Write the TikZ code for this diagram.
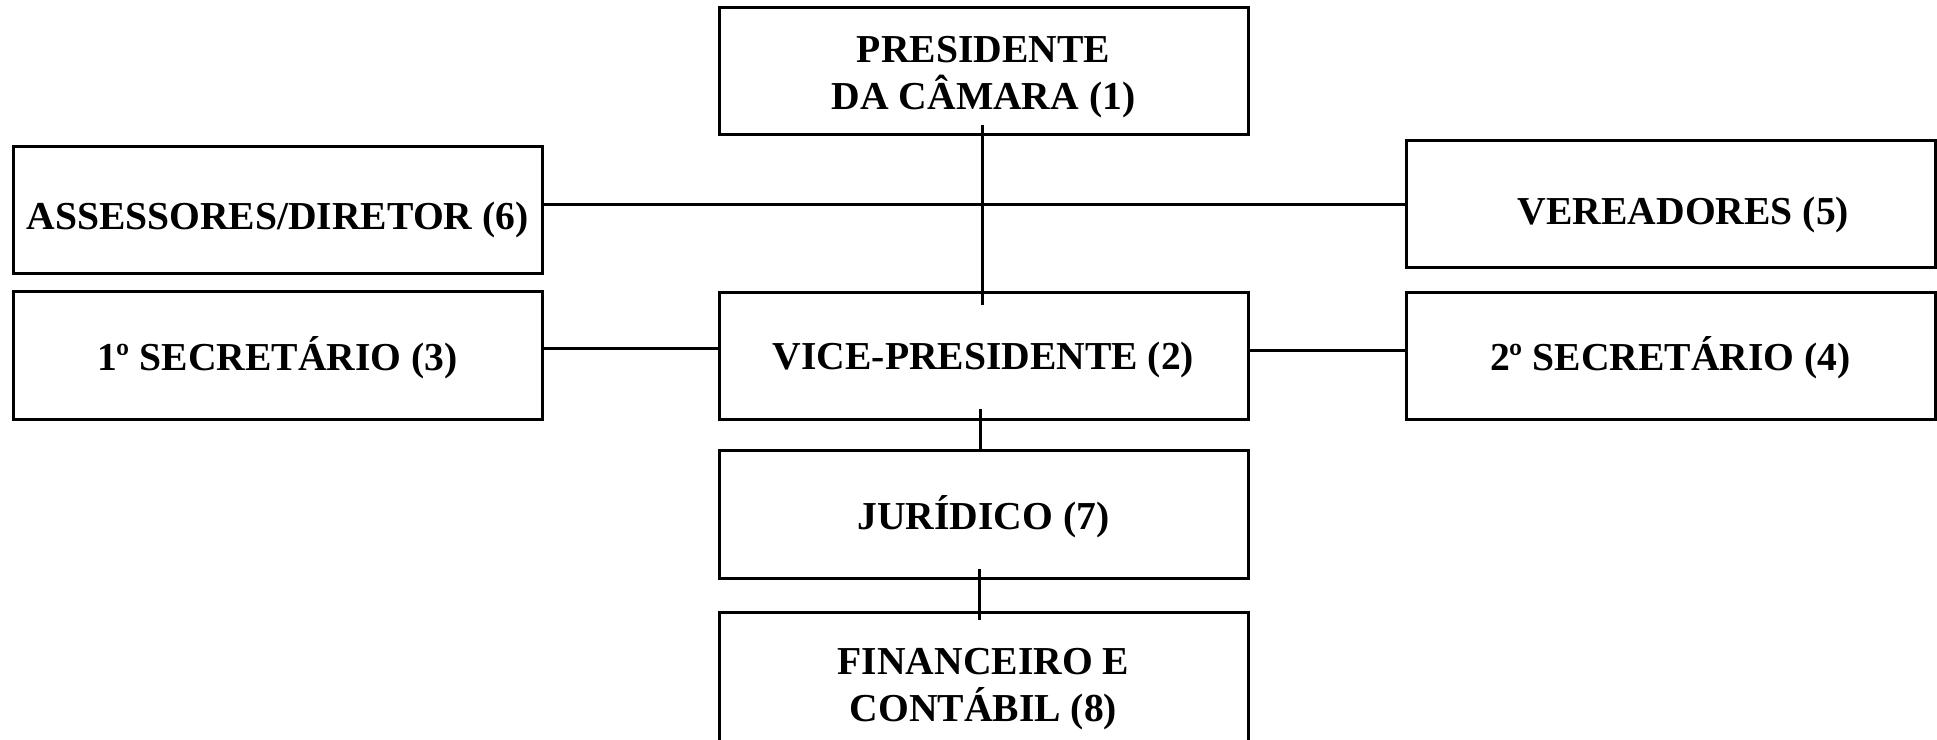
\documentclass[tikz,border=0pt]{standalone}
\usepackage{fontspec}
\setmainfont{Liberation Serif}
\begin{document}
\begin{tikzpicture}[x=0.5pt,y=-0.5pt,
  orgbox/.style={draw,line width=1.5pt,rectangle,inner sep=0pt,outer sep=0pt,
    minimum width=264.5pt,minimum height=63.5pt},
  orgtext/.style={inner sep=0pt,align=center,
    font=\fontsize{19.8}{23.5}\selectfont\bfseries},
  link/.style={line width=1.5pt}]
\useasboundingbox (0,0) rectangle (1937,739);
\node[orgbox] (pres) at (983.5,70.5) {};
\node[orgbox] (asses) at (277.5,210) {};
\node[orgbox] (verea) at (1670.5,204) {};
\node[orgbox,minimum height=64pt] (sec1) at (277.5,355) {};
\node[orgbox] (vp) at (983.5,355.5) {};
\node[orgbox] (sec2) at (1670.5,355.5) {};
\node[orgbox,minimum height=64pt] (jur) at (983.5,514) {};
\node[orgbox,minimum height=64.5pt] (fin) at (983.5,676.5) {};
\node[orgtext] (presT) at ([yshift=-3.5pt]pres.center) {PRESIDENTE\\DA CÂMARA (1)};
\node[orgtext] (assesT) at ([yshift=-5pt]asses.center) {ASSESSORES/DIRETOR (6)};
\node[orgtext] (vereaT) at ([xshift=6.5pt,yshift=-5.5pt]verea.center) {VEREADORES (5)};
\node[orgtext] (sec1T) at ([yshift=-1.5pt]sec1.center) {1º SECRETÁRIO (3)};
\node[orgtext] (vpT) at ([yshift=-2pt]vp.center) {VICE-PRESIDENTE (2)};
\node[orgtext] (sec2T) at ([yshift=-1pt]sec2.center) {2º SECRETÁRIO (4)};
\node[orgtext] (jurT) at ([yshift=-1.5pt]jur.center) {JURÍDICO (7)};
\node[orgtext] (finT) at ([yshift=-6.5pt]fin.center) {FINANCEIRO E\\CONTÁBIL (8)};
\coordinate (tA) at (982.5,125);
\coordinate (tB) at (982.5,305);
\draw[link] (tA) -- (tB);
\draw[link] (asses.east |- 0,204) -- (verea.west |- 0,204);
\draw[link] (sec1.east |- 0,348) -- (vp.west |- 0,348);
\draw[link] (vp.east |- 0,350) -- (sec2.west |- 0,350);
\coordinate (jA) at (980.5,409);
\draw[link] (jA) -- (jA |- jur.north);
\coordinate (fA) at (979.5,569);
\coordinate (fB) at (979.5,620);
\draw[link] (fA) -- (fB);
\end{tikzpicture}
\end{document}
